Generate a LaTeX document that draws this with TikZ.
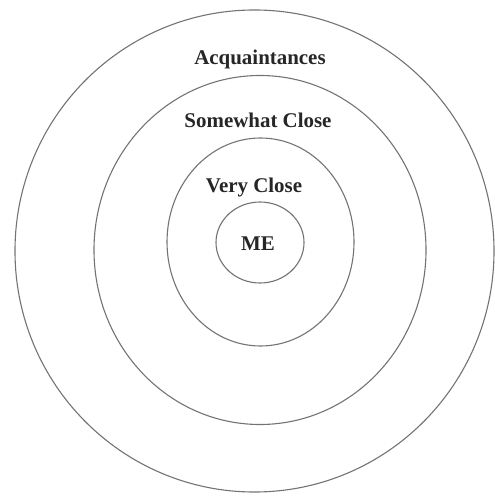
\documentclass[tikz,border=0pt]{standalone}
\usepackage{fontspec}
\setmainfont{Liberation Serif}
\usetikzlibrary{shapes.geometric}
\begin{document}
\begin{tikzpicture}[x=1bp,y=-1bp,
  ring/.style={ellipse,draw=black!55,line width=1.1bp,inner sep=0pt,fill=none},
  lbl/.style={anchor=base,inner sep=0pt,font=\fontsize{21}{25}\selectfont\bfseries,text=black!85}]
\useasboundingbox (0,0) rectangle (495,496);
\node[ring,minimum width=479bp,minimum height=482bp] (outer) at (254.5,251) {};
\node[ring,minimum width=332bp,minimum height=349bp] (somewhat) at (260,250) {};
\node[ring,minimum width=187bp,minimum height=208bp] (very) at (260.5,242) {};
\node[ring,minimum width=88bp,minimum height=81bp] (me) at (260,242.5) {};
\node[lbl] (tacq) at (260,65) {Acquaintances};
\node[lbl] (tsom) at (258,128) {Somewhat Close};
\node[lbl] (tvery) at (254,193) {Very Close};
\node[lbl] (tme) at (258,250) {ME};
\end{tikzpicture}
\end{document}
